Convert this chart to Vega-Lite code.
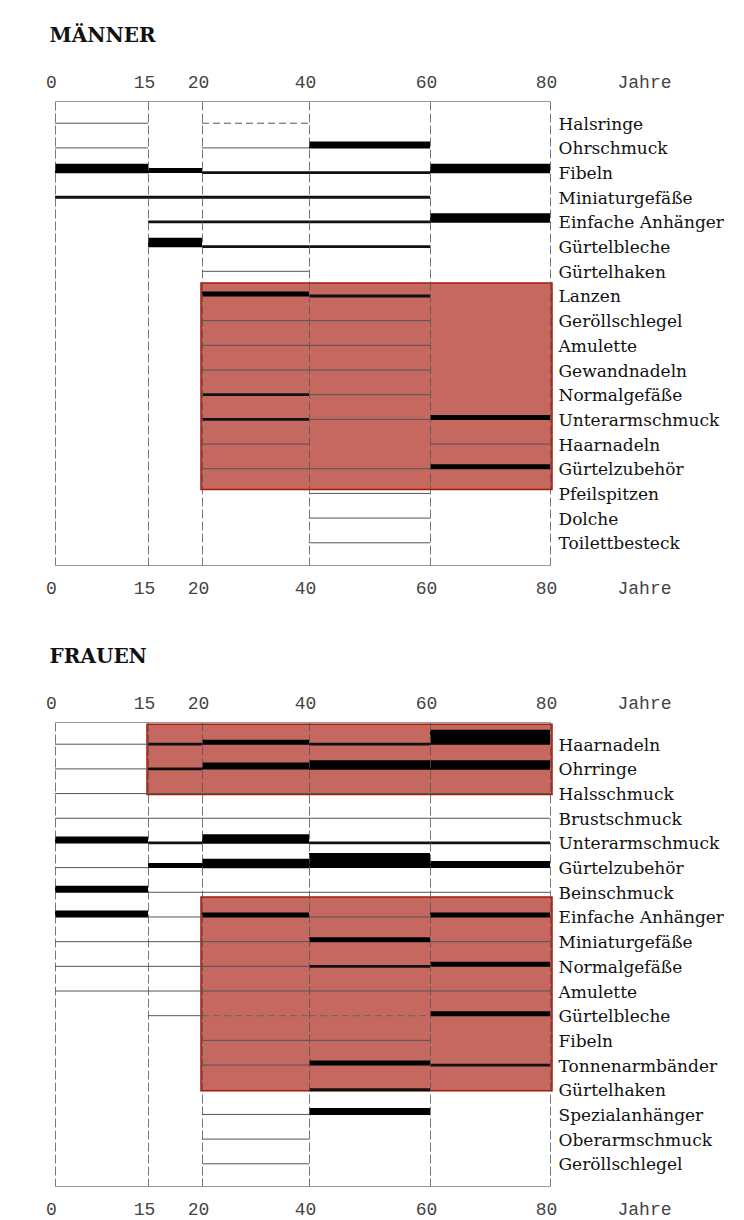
{
  "$schema": "https://vega.github.io/schema/vega-lite/v6.json",
  "background": "white",
  "padding": {"left": 45, "top": 26, "right": 0, "bottom": 0},
  "spacing": 50,
  "config": {
    "view": {"stroke": null},
    "font": "DejaVu Serif"
  },
  "datasets": {
    "segmente": [
      {"g":"M","b":"Halsringe","von":0,"bis":15,"h":1},
      {"g":"M","b":"Halsringe","von":20,"bis":40,"h":0},
      {"g":"M","b":"Ohrschmuck","von":0,"bis":15,"h":1},
      {"g":"M","b":"Ohrschmuck","von":20,"bis":40,"h":1},
      {"g":"M","b":"Ohrschmuck","von":40,"bis":60,"h":4},
      {"g":"M","b":"Fibeln","von":0,"bis":15,"h":5},
      {"g":"M","b":"Fibeln","von":15,"bis":20,"h":3},
      {"g":"M","b":"Fibeln","von":20,"bis":40,"h":2},
      {"g":"M","b":"Fibeln","von":40,"bis":60,"h":2},
      {"g":"M","b":"Fibeln","von":60,"bis":80,"h":5},
      {"g":"M","b":"Miniaturgefäße","von":0,"bis":15,"h":2},
      {"g":"M","b":"Miniaturgefäße","von":15,"bis":20,"h":2},
      {"g":"M","b":"Miniaturgefäße","von":20,"bis":40,"h":2},
      {"g":"M","b":"Miniaturgefäße","von":40,"bis":60,"h":2},
      {"g":"M","b":"Einfache Anhänger","von":15,"bis":20,"h":2},
      {"g":"M","b":"Einfache Anhänger","von":20,"bis":40,"h":2},
      {"g":"M","b":"Einfache Anhänger","von":40,"bis":60,"h":2},
      {"g":"M","b":"Einfache Anhänger","von":60,"bis":80,"h":5},
      {"g":"M","b":"Gürtelbleche","von":15,"bis":20,"h":5},
      {"g":"M","b":"Gürtelbleche","von":20,"bis":40,"h":2},
      {"g":"M","b":"Gürtelbleche","von":40,"bis":60,"h":2},
      {"g":"M","b":"Gürtelhaken","von":20,"bis":40,"h":1},
      {"g":"M","b":"Lanzen","von":20,"bis":40,"h":3},
      {"g":"M","b":"Lanzen","von":40,"bis":60,"h":2},
      {"g":"M","b":"Geröllschlegel","von":20,"bis":40,"h":1},
      {"g":"M","b":"Geröllschlegel","von":40,"bis":60,"h":1},
      {"g":"M","b":"Amulette","von":20,"bis":40,"h":1},
      {"g":"M","b":"Amulette","von":40,"bis":60,"h":1},
      {"g":"M","b":"Gewandnadeln","von":20,"bis":40,"h":1},
      {"g":"M","b":"Gewandnadeln","von":40,"bis":60,"h":1},
      {"g":"M","b":"Normalgefäße","von":20,"bis":40,"h":2},
      {"g":"M","b":"Normalgefäße","von":40,"bis":60,"h":1},
      {"g":"M","b":"Unterarmschmuck","von":20,"bis":40,"h":2},
      {"g":"M","b":"Unterarmschmuck","von":40,"bis":60,"h":1},
      {"g":"M","b":"Unterarmschmuck","von":60,"bis":80,"h":3},
      {"g":"M","b":"Haarnadeln","von":20,"bis":40,"h":1},
      {"g":"M","b":"Haarnadeln","von":60,"bis":80,"h":1},
      {"g":"M","b":"Gürtelzubehör","von":20,"bis":40,"h":1},
      {"g":"M","b":"Gürtelzubehör","von":40,"bis":60,"h":1},
      {"g":"M","b":"Gürtelzubehör","von":60,"bis":80,"h":3},
      {"g":"M","b":"Pfeilspitzen","von":40,"bis":60,"h":1},
      {"g":"M","b":"Dolche","von":40,"bis":60,"h":1},
      {"g":"M","b":"Toilettbesteck","von":40,"bis":60,"h":1},

      {"g":"F","b":"Haarnadeln","von":0,"bis":15,"h":1},
      {"g":"F","b":"Haarnadeln","von":15,"bis":20,"h":2},
      {"g":"F","b":"Haarnadeln","von":20,"bis":40,"h":3},
      {"g":"F","b":"Haarnadeln","von":40,"bis":60,"h":2},
      {"g":"F","b":"Haarnadeln","von":60,"bis":80,"h":6},
      {"g":"F","b":"Ohrringe","von":0,"bis":15,"h":1},
      {"g":"F","b":"Ohrringe","von":15,"bis":20,"h":2},
      {"g":"F","b":"Ohrringe","von":20,"bis":40,"h":4},
      {"g":"F","b":"Ohrringe","von":40,"bis":60,"h":5},
      {"g":"F","b":"Ohrringe","von":60,"bis":80,"h":5},
      {"g":"F","b":"Halsschmuck","von":0,"bis":15,"h":1},
      {"g":"F","b":"Halsschmuck","von":15,"bis":20,"h":1},
      {"g":"F","b":"Halsschmuck","von":20,"bis":40,"h":1},
      {"g":"F","b":"Halsschmuck","von":40,"bis":60,"h":1},
      {"g":"F","b":"Halsschmuck","von":60,"bis":80,"h":1},
      {"g":"F","b":"Brustschmuck","von":0,"bis":15,"h":1},
      {"g":"F","b":"Brustschmuck","von":15,"bis":20,"h":1},
      {"g":"F","b":"Brustschmuck","von":20,"bis":40,"h":1},
      {"g":"F","b":"Brustschmuck","von":40,"bis":60,"h":1},
      {"g":"F","b":"Brustschmuck","von":60,"bis":80,"h":1},
      {"g":"F","b":"Unterarmschmuck","von":0,"bis":15,"h":4},
      {"g":"F","b":"Unterarmschmuck","von":15,"bis":20,"h":2},
      {"g":"F","b":"Unterarmschmuck","von":20,"bis":40,"h":5},
      {"g":"F","b":"Unterarmschmuck","von":40,"bis":60,"h":2},
      {"g":"F","b":"Unterarmschmuck","von":60,"bis":80,"h":2},
      {"g":"F","b":"Gürtelzubehör","von":0,"bis":15,"h":1},
      {"g":"F","b":"Gürtelzubehör","von":15,"bis":20,"h":3},
      {"g":"F","b":"Gürtelzubehör","von":20,"bis":40,"h":5},
      {"g":"F","b":"Gürtelzubehör","von":40,"bis":60,"h":6},
      {"g":"F","b":"Gürtelzubehör","von":60,"bis":80,"h":4},
      {"g":"F","b":"Beinschmuck","von":0,"bis":15,"h":4},
      {"g":"F","b":"Beinschmuck","von":15,"bis":20,"h":1},
      {"g":"F","b":"Beinschmuck","von":20,"bis":40,"h":1},
      {"g":"F","b":"Beinschmuck","von":40,"bis":60,"h":1},
      {"g":"F","b":"Beinschmuck","von":60,"bis":80,"h":1},
      {"g":"F","b":"Einfache Anhänger","von":0,"bis":15,"h":4},
      {"g":"F","b":"Einfache Anhänger","von":15,"bis":20,"h":1},
      {"g":"F","b":"Einfache Anhänger","von":20,"bis":40,"h":3},
      {"g":"F","b":"Einfache Anhänger","von":40,"bis":60,"h":1},
      {"g":"F","b":"Einfache Anhänger","von":60,"bis":80,"h":3},
      {"g":"F","b":"Miniaturgefäße","von":0,"bis":15,"h":1},
      {"g":"F","b":"Miniaturgefäße","von":15,"bis":20,"h":1},
      {"g":"F","b":"Miniaturgefäße","von":20,"bis":40,"h":1},
      {"g":"F","b":"Miniaturgefäße","von":40,"bis":60,"h":3},
      {"g":"F","b":"Miniaturgefäße","von":60,"bis":80,"h":1},
      {"g":"F","b":"Normalgefäße","von":0,"bis":15,"h":1},
      {"g":"F","b":"Normalgefäße","von":15,"bis":20,"h":1},
      {"g":"F","b":"Normalgefäße","von":20,"bis":40,"h":1},
      {"g":"F","b":"Normalgefäße","von":40,"bis":60,"h":2},
      {"g":"F","b":"Normalgefäße","von":60,"bis":80,"h":3},
      {"g":"F","b":"Amulette","von":0,"bis":15,"h":1},
      {"g":"F","b":"Amulette","von":15,"bis":20,"h":1},
      {"g":"F","b":"Amulette","von":20,"bis":40,"h":1},
      {"g":"F","b":"Amulette","von":40,"bis":60,"h":1},
      {"g":"F","b":"Amulette","von":60,"bis":80,"h":1},
      {"g":"F","b":"Gürtelbleche","von":15,"bis":20,"h":1},
      {"g":"F","b":"Gürtelbleche","von":20,"bis":40,"h":0},
      {"g":"F","b":"Gürtelbleche","von":40,"bis":60,"h":0},
      {"g":"F","b":"Gürtelbleche","von":60,"bis":80,"h":3},
      {"g":"F","b":"Fibeln","von":20,"bis":40,"h":1},
      {"g":"F","b":"Fibeln","von":40,"bis":60,"h":1},
      {"g":"F","b":"Tonnenarmbänder","von":20,"bis":40,"h":1},
      {"g":"F","b":"Tonnenarmbänder","von":40,"bis":60,"h":3},
      {"g":"F","b":"Tonnenarmbänder","von":60,"bis":80,"h":2},
      {"g":"F","b":"Gürtelhaken","von":40,"bis":60,"h":2},
      {"g":"F","b":"Spezialanhänger","von":20,"bis":40,"h":1},
      {"g":"F","b":"Spezialanhänger","von":40,"bis":60,"h":4},
      {"g":"F","b":"Oberarmschmuck","von":20,"bis":40,"h":1},
      {"g":"F","b":"Geröllschlegel","von":20,"bis":40,"h":1}
    ],
    "kaesten": [
      {"g":"M","von":20,"bis":80,"b":"Lanzen","b2":"Pfeilspitzen"},
      {"g":"F","von":15,"bis":80,"b":"Haarnadeln","b2":"Halsschmuck"},
      {"g":"F","von":20,"bis":80,"b":"Einfache Anhänger","b2":"Gürtelhaken"}
    ]
  },
  "vconcat": [
    {
      "title": {"text": "MÄNNER", "anchor": "start", "dx": 4, "offset": 27, "font": "DejaVu Serif", "fontSize": 20, "fontWeight": "bold", "color": "#111"},
      "width": 495,
      "height": 464,
      "data": {"name": "segmente"},
      "encoding": {
        "x": {"field": "von", "type": "quantitative", "scale": {"type": "linear", "domain": [0, 15, 20, 40, 60, 80], "range": [0, 93, 147, 254, 375, 495]}, "axis": null},
        "x2": {"field": "bis"},
        "y": {"field": "b", "type": "nominal", "sort": null,
          "scale": {"type": "point", "padding": 0.9, "domain": ["Halsringe","Ohrschmuck","Fibeln","Miniaturgefäße","Einfache Anhänger","Gürtelbleche","Gürtelhaken","Lanzen","Geröllschlegel","Amulette","Gewandnadeln","Normalgefäße","Unterarmschmuck","Haarnadeln","Gürtelzubehör","Pfeilspitzen","Dolche","Toilettbesteck"]},
          "axis": {"orient": "right", "title": null, "domain": false, "ticks": false, "grid": false, "labelFont": "DejaVu Serif", "labelFontSize": 17, "labelColor": "#111", "labelPadding": 8, "labelBaseline": "alphabetic", "labelOffset": 6, "labelLimit": 0, "labelOverlap": false}}
      },
      "layer": [
        {
          "data": {"name": "kaesten"},
          "transform": [{"filter": "datum.g === 'M'"}],
          "mark": {"type": "rect", "fill": "#c46860", "stroke": "#a8180a", "strokeWidth": 1.5, "yOffset": -13, "y2Offset": -4, "xOffset": -1, "x2Offset": 2},
          "encoding": {
            "x": {"field": "von", "type": "quantitative", "scale": {"type": "linear", "domain": [0, 15, 20, 40, 60, 80], "range": [0, 93, 147, 254, 375, 495]},
              "axis": {"orient": "top", "values": [0, 15, 20, 40, 60, 80], "grid": true, "gridDash": [9, 3], "gridColor": "#555", "gridWidth": 0.8, "ticks": false, "tickSize": 0, "domain": true, "domainColor": "#999", "domainWidth": 1.2, "labelFont": "Liberation Mono", "labelFontSize": 18, "labelColor": "#444", "labelBaseline": "middle", "labelPadding": 19, "labelOffset": -4, "labelFlush": false, "zindex": 1,
                "title": "Jahre", "titleFont": "Liberation Mono", "titleFontSize": 18, "titleFontWeight": "normal", "titleColor": "#444", "titleX": 589, "titleY": -19, "titleAlign": "center", "titleBaseline": "middle", "titleAngle": 0}},
            "y2": {"field": "b2"}
          }
        },
        {
          "transform": [{"filter": "datum.g === 'M' && datum.h === 0"}],
          "mark": {"type": "rule", "stroke": "#555", "strokeWidth": 1, "strokeDash": [7, 4]}
        },
        {
          "transform": [{"filter": "datum.g === 'M' && datum.h === 1"}],
          "mark": {"type": "rule", "stroke": "#555", "strokeWidth": 1},
          "encoding": {
            "x": {"field": "von", "type": "quantitative", "scale": {"type": "linear", "domain": [0, 15, 20, 40, 60, 80], "range": [0, 93, 147, 254, 375, 495]},
              "axis": {"orient": "bottom", "values": [0, 15, 20, 40, 60, 80], "grid": false, "ticks": false, "tickSize": 0, "domain": true, "domainColor": "#999", "domainWidth": 1.2, "labelFont": "Liberation Mono", "labelFontSize": 18, "labelColor": "#444", "labelBaseline": "middle", "labelPadding": 23, "labelOffset": -4, "labelFlush": false,
                "title": "Jahre", "titleFont": "Liberation Mono", "titleFontSize": 18, "titleFontWeight": "normal", "titleColor": "#444", "titleX": 589, "titleY": 23, "titleAlign": "center", "titleBaseline": "middle", "titleAngle": 0}}
          }
        },
        {
          "transform": [{"filter": "datum.g === 'M' && datum.h === 2"}],
          "mark": {"type": "rule", "stroke": "#111", "strokeWidth": 2.8}
        },
        {
          "transform": [{"filter": "datum.g === 'M' && datum.h === 3"}],
          "mark": {"type": "rule", "stroke": "#000", "strokeWidth": 5, "yOffset": -2}
        },
        {
          "transform": [{"filter": "datum.g === 'M' && datum.h === 4"}],
          "mark": {"type": "rule", "stroke": "#000", "strokeWidth": 7, "yOffset": -3}
        },
        {
          "transform": [{"filter": "datum.g === 'M' && datum.h === 5"}],
          "mark": {"type": "rule", "stroke": "#000", "strokeWidth": 9.5, "yOffset": -4}
        },
        {
          "transform": [{"filter": "datum.g === 'M' && datum.h === 6"}],
          "mark": {"type": "rule", "stroke": "#000", "strokeWidth": 15, "yOffset": -7}
        }
      ],
      "resolve": {"axis": {"x": "independent"}}
    },
    {
      "title": {"text": "FRAUEN", "anchor": "start", "dx": 4, "offset": 27, "font": "DejaVu Serif", "fontSize": 20, "fontWeight": "bold", "color": "#111"},
      "width": 495,
      "height": 464,
      "data": {"name": "segmente"},
      "encoding": {
        "x": {"field": "von", "type": "quantitative", "scale": {"type": "linear", "domain": [0, 15, 20, 40, 60, 80], "range": [0, 93, 147, 254, 375, 495]}, "axis": null},
        "x2": {"field": "bis"},
        "y": {"field": "b", "type": "nominal", "sort": null,
          "scale": {"type": "point", "padding": 0.9, "domain": ["Haarnadeln","Ohrringe","Halsschmuck","Brustschmuck","Unterarmschmuck","Gürtelzubehör","Beinschmuck","Einfache Anhänger","Miniaturgefäße","Normalgefäße","Amulette","Gürtelbleche","Fibeln","Tonnenarmbänder","Gürtelhaken","Spezialanhänger","Oberarmschmuck","Geröllschlegel"]},
          "axis": {"orient": "right", "title": null, "domain": false, "ticks": false, "grid": false, "labelFont": "DejaVu Serif", "labelFontSize": 17, "labelColor": "#111", "labelPadding": 8, "labelBaseline": "alphabetic", "labelOffset": 6, "labelLimit": 0, "labelOverlap": false}}
      },
      "layer": [
        {
          "data": {"name": "kaesten"},
          "transform": [{"filter": "datum.g === 'F'"}],
          "mark": {"type": "rect", "fill": "#c46860", "stroke": "#a8180a", "strokeWidth": 1.5, "yOffset": -20, "y2Offset": 1, "xOffset": -1, "x2Offset": 2},
          "encoding": {
            "x": {"field": "von", "type": "quantitative", "scale": {"type": "linear", "domain": [0, 15, 20, 40, 60, 80], "range": [0, 93, 147, 254, 375, 495]},
              "axis": {"orient": "top", "values": [0, 15, 20, 40, 60, 80], "grid": true, "gridDash": [9, 3], "gridColor": "#555", "gridWidth": 0.8, "ticks": false, "tickSize": 0, "domain": true, "domainColor": "#999", "domainWidth": 1.2, "labelFont": "Liberation Mono", "labelFontSize": 18, "labelColor": "#444", "labelBaseline": "middle", "labelPadding": 19, "labelOffset": -4, "labelFlush": false, "zindex": 1,
                "title": "Jahre", "titleFont": "Liberation Mono", "titleFontSize": 18, "titleFontWeight": "normal", "titleColor": "#444", "titleX": 589, "titleY": -19, "titleAlign": "center", "titleBaseline": "middle", "titleAngle": 0}},
            "y2": {"field": "b2"}
          }
        },
        {
          "transform": [{"filter": "datum.g === 'F' && datum.h === 0"}],
          "mark": {"type": "rule", "stroke": "#666", "strokeWidth": 1, "strokeDash": [7, 4]}
        },
        {
          "transform": [{"filter": "datum.g === 'F' && datum.h === 1"}],
          "mark": {"type": "rule", "stroke": "#555", "strokeWidth": 1},
          "encoding": {
            "x": {"field": "von", "type": "quantitative", "scale": {"type": "linear", "domain": [0, 15, 20, 40, 60, 80], "range": [0, 93, 147, 254, 375, 495]},
              "axis": {"orient": "bottom", "values": [0, 15, 20, 40, 60, 80], "grid": false, "ticks": false, "tickSize": 0, "domain": true, "domainColor": "#999", "domainWidth": 1.2, "labelFont": "Liberation Mono", "labelFontSize": 18, "labelColor": "#444", "labelBaseline": "middle", "labelPadding": 23, "labelOffset": -4, "labelFlush": false,
                "title": "Jahre", "titleFont": "Liberation Mono", "titleFontSize": 18, "titleFontWeight": "normal", "titleColor": "#444", "titleX": 589, "titleY": 23, "titleAlign": "center", "titleBaseline": "middle", "titleAngle": 0}}
          }
        },
        {
          "transform": [{"filter": "datum.g === 'F' && datum.h === 2"}],
          "mark": {"type": "rule", "stroke": "#111", "strokeWidth": 2.8}
        },
        {
          "transform": [{"filter": "datum.g === 'F' && datum.h === 3"}],
          "mark": {"type": "rule", "stroke": "#000", "strokeWidth": 5, "yOffset": -2}
        },
        {
          "transform": [{"filter": "datum.g === 'F' && datum.h === 4"}],
          "mark": {"type": "rule", "stroke": "#000", "strokeWidth": 7, "yOffset": -3}
        },
        {
          "transform": [{"filter": "datum.g === 'F' && datum.h === 5"}],
          "mark": {"type": "rule", "stroke": "#000", "strokeWidth": 9.5, "yOffset": -4}
        },
        {
          "transform": [{"filter": "datum.g === 'F' && datum.h === 6"}],
          "mark": {"type": "rule", "stroke": "#000", "strokeWidth": 15, "yOffset": -7}
        }
      ],
      "resolve": {"axis": {"x": "independent"}}
    }
  ],
  "resolve": {"scale": {"y": "independent"}}
}
